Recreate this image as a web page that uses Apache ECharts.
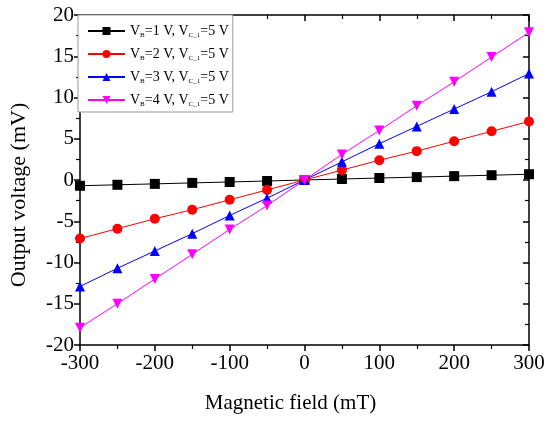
<!DOCTYPE html>
<html lang="en">
<head>
    <meta charset="UTF-8">
    <title>Output voltage vs magnetic field</title>
    <script src="https://cdn.jsdelivr.net/npm/echarts@6/dist/echarts.min.js"></script>
    <style>
        html, body { margin: 0; padding: 0; background: #fff; }
        #container { width: 550px; height: 424px; }
    </style>
</head>
<body>
<div id="container"></div>
<script type="text/javascript">
    // 磁场 (mT)
    let field = [-300, -250, -200, -150, -100, -50, 0, 50, 100, 150, 200, 250, 300];
    // 输出电压 (mV)
    let vb1 = [-0.7, -0.58, -0.47, -0.35, -0.24, -0.12, 0, 0.12, 0.24, 0.35, 0.47, 0.58, 0.7];
    let vb2 = [-7.1, -5.9, -4.7, -3.6, -2.4, -1.2, 0, 1.2, 2.4, 3.5, 4.7, 5.9, 7.1];
    let vb3 = [-12.9, -10.7, -8.6, -6.5, -4.3, -2.2, 0, 2.2, 4.4, 6.5, 8.6, 10.7, 12.9];
    let vb4 = [-17.9, -15.0, -12.0, -9.0, -6.0, -3.1, 0, 3.1, 6.0, 9.0, 11.9, 14.9, 17.9];
    let seriesNames = ['VB1', 'VB2', 'VB3', 'VB4'];
    let legendText = {
        VB1: 'V{sub|B}=1 V, V{sub|C_1}=5 V',
        VB2: 'V{sub|B}=2 V, V{sub|C_1}=5 V',
        VB3: 'V{sub|B}=3 V, V{sub|C_1}=5 V',
        VB4: 'V{sub|B}=4 V, V{sub|C_1}=5 V'
    };

    const font = '"Liberation Serif", "Times New Roman", serif';

    function pairs(ys) {
        return field.map((x, i) => [x, ys[i]]);
    }

    function makeSeries(name, ys, color, symbol, rotate) {
        return {
            name: name,
            type: 'line',
            data: pairs(ys),
            symbol: symbol,
            symbolSize: 10,
            symbolRotate: rotate || 0,
            itemStyle: { color: color },
            lineStyle: { color: color, width: 1 },
            z: 3
        };
    }

    let myChart = echarts.init(document.getElementById('container'));
    let option = {
        animation: false,
        backgroundColor: '#fff',
        textStyle: { fontFamily: font },
        grid: { left: 75, right: 21, top: 15, bottom: 79 },
        legend: {
            data: seriesNames,
            orient: 'vertical',
            left: 78,
            top: 15,
            itemWidth: 37,
            itemHeight: 10,
            itemGap: 8,
            padding: [9, 4, 4, 9],
            borderColor: '#999',
            borderWidth: 1,
            backgroundColor: '#fff',
            formatter: name => legendText[name],
            textStyle: {
                fontFamily: font,
                fontSize: 14,
                color: '#000',
                rich: {
                    sub: { fontSize: 7, fontFamily: font, verticalAlign: 'bottom', padding: [9, 0, 0, 0] }
                }
            }
        },
        xAxis: [
            {
                type: 'value',
                min: -300, max: 300, interval: 100,
                name: 'Magnetic field (mT)',
                nameLocation: 'middle',
                nameGap: 48,
                nameTextStyle: { fontFamily: font, fontSize: 21, color: '#000', padding: [0, 28, 0, 0] },
                axisLine: { onZero: false, lineStyle: { color: '#000', width: 1.5 } },
                axisTick: { inside: false, length: 6, lineStyle: { color: '#000', width: 1.5 } },
                minorTick: { show: true, splitNumber: 2, length: 4, lineStyle: { color: '#000', width: 1.2 } },
                axisLabel: { fontFamily: font, fontSize: 21, color: '#000', margin: 8 },
                splitLine: { show: false }
            },
            {
                type: 'value', position: 'top',
                min: -300, max: 300, interval: 100,
                axisLine: { onZero: false, lineStyle: { color: '#000', width: 1.5 } },
                axisTick: { inside: true, length: 6, lineStyle: { color: '#000', width: 1.5 } },
                minorTick: { show: true, splitNumber: 2, length: 4, lineStyle: { color: '#000', width: 1.2 } },
                axisLabel: { show: false },
                splitLine: { show: false }
            }
        ],
        yAxis: [
            {
                type: 'value',
                min: -20, max: 20, interval: 5,
                name: 'Output voltage (mV)',
                nameLocation: 'middle',
                nameGap: 50,
                nameTextStyle: { fontFamily: font, fontSize: 22, color: '#000', padding: [0, 30, 0, 0] },
                axisLine: { onZero: false, lineStyle: { color: '#000', width: 1.5 } },
                axisTick: { inside: false, length: 6, lineStyle: { color: '#000', width: 1.5 } },
                minorTick: { show: true, splitNumber: 2, length: 4, lineStyle: { color: '#000', width: 1.2 } },
                axisLabel: { fontFamily: font, fontSize: 21, color: '#000', margin: 6 },
                splitLine: { show: false }
            },
            {
                type: 'value', position: 'right',
                min: -20, max: 20, interval: 5,
                axisLine: { onZero: false, lineStyle: { color: '#000', width: 1.5 } },
                axisTick: { inside: true, length: 6, lineStyle: { color: '#000', width: 1.5 } },
                minorTick: { show: true, splitNumber: 2, length: 4, lineStyle: { color: '#000', width: 1.2 } },
                axisLabel: { show: false },
                splitLine: { show: false }
            }
        ],
        series: [
            makeSeries('VB1', vb1, '#000000', 'rect'),
            makeSeries('VB2', vb2, '#ff0000', 'circle'),
            makeSeries('VB3', vb3, '#0000ff', 'triangle'),
            makeSeries('VB4', vb4, '#ff00ff', 'triangle', 180)
        ]
    };
    myChart.setOption(option);
</script>
</body>
</html>
